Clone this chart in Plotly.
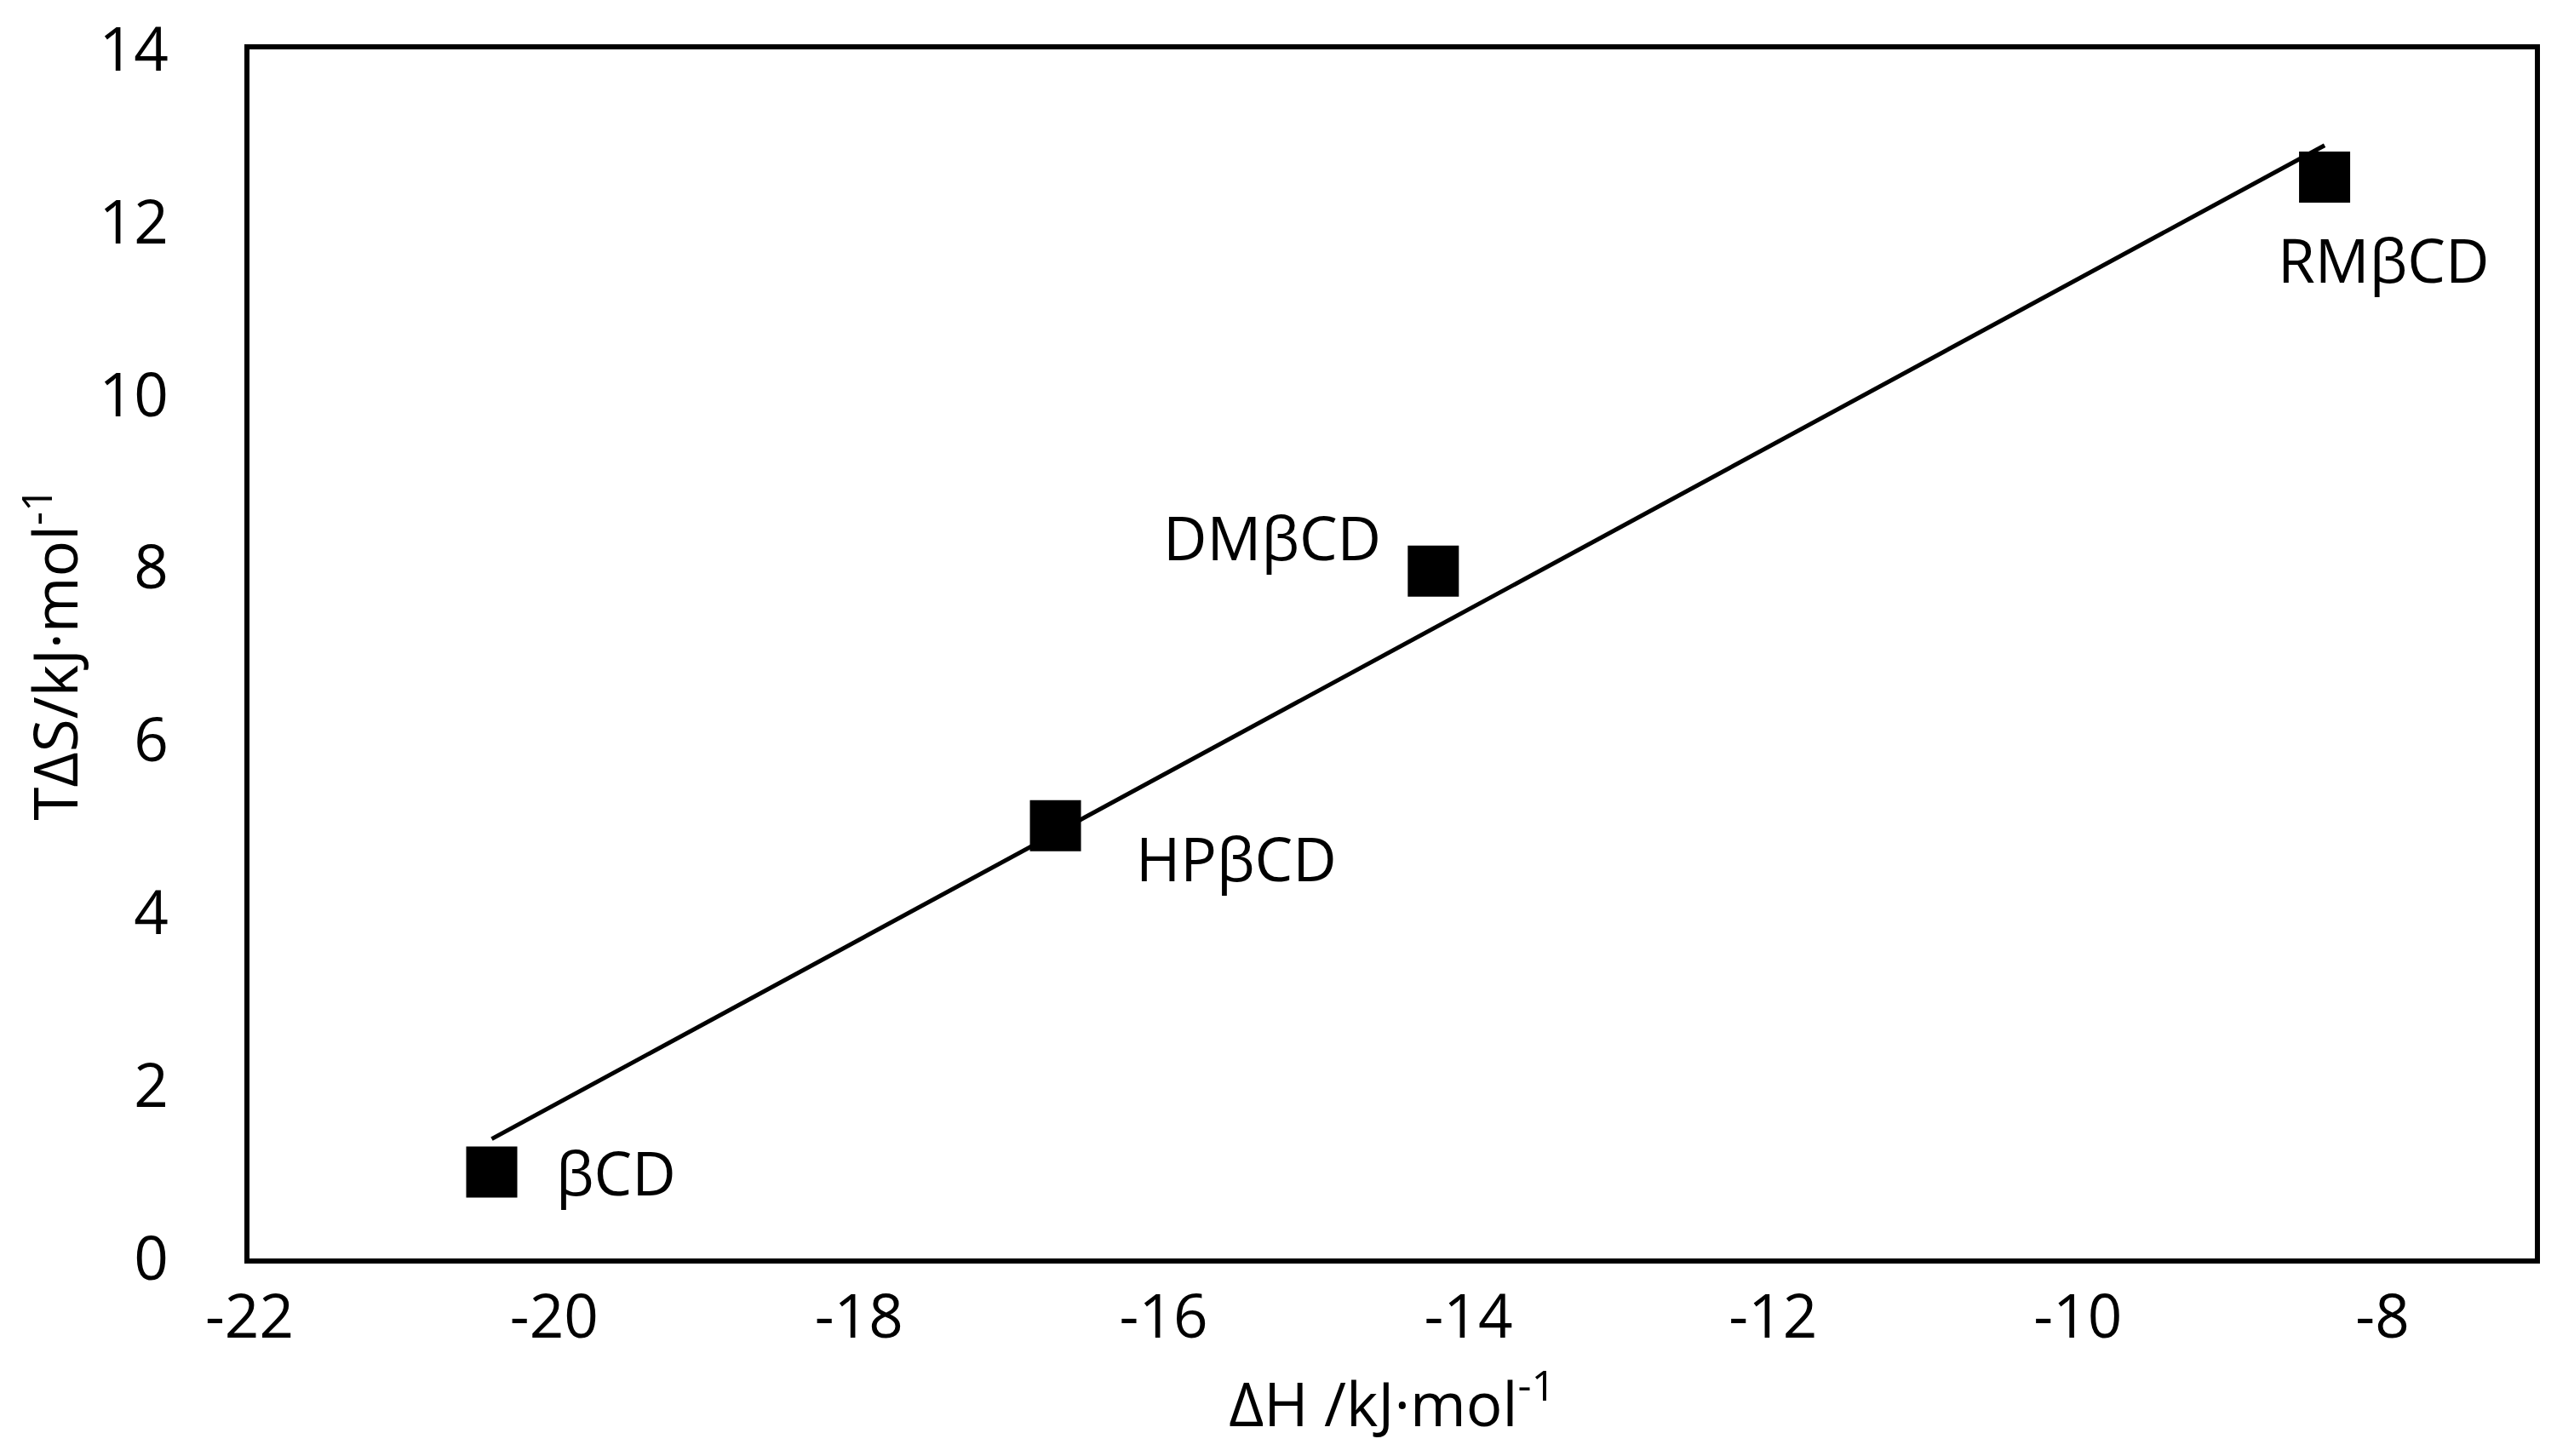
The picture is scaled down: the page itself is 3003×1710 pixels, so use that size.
import numpy as np
import plotly.graph_objects as go

# ---- data ----
compounds = ["βCD", "HPβCD", "DMβCD", "RMβCD"]
delta_h = [-20.41, -16.71, -14.23, -8.38]      # kJ/mol
t_delta_s = [1.00, 5.01, 7.96, 12.52]          # kJ/mol
x_ticks = [-22, -20, -18, -16, -14, -12, -10, -8]
y_ticks = [0, 2, 4, 6, 8, 10, 12, 14]

# linear trend line (least squares) over the data span
slope, intercept = np.polyfit(delta_h, t_delta_s, 1)
trend_x = [min(delta_h), max(delta_h)]
trend_y = [slope * v + intercept for v in trend_x]

FONT = "Open Sans"
FS = 71

fig = go.Figure()
fig.add_trace(go.Scatter(x=trend_x, y=trend_y, mode="lines",
                         line=dict(color="black", width=5), showlegend=False,
                         hoverinfo="skip"))
fig.add_trace(go.Scatter(x=delta_h, y=t_delta_s, mode="markers",
                         marker=dict(symbol="square", size=60, color="black"),
                         showlegend=False))

# label placement (pixel offsets from each point)
placement = {
    "βCD": dict(xanchor="left", xshift=73, yshift=0),
    "HPβCD": dict(xanchor="left", xshift=92, yshift=-38),
    "DMβCD": dict(xanchor="right", xshift=-59, yshift=40),
    "RMβCD": dict(xanchor="center", xshift=69, yshift=-96),
}
for name, xv, yv in zip(compounds, delta_h, t_delta_s):
    p = placement[name]
    fig.add_annotation(x=xv, y=yv, xref="x", yref="y", text=name,
                       showarrow=False, xanchor=p["xanchor"], yanchor="middle",
                       xshift=p["xshift"], yshift=p["yshift"],
                       font=dict(family=FONT, size=FS, color="black"))

fig.update_layout(
    width=3003, height=1710,
    paper_bgcolor="white", plot_bgcolor="white",
    margin=dict(l=285, r=34, t=50, b=240),
    font=dict(family=FONT, size=FS, color="black"),
)
fig.update_xaxes(range=[-22, -7], tickvals=x_ticks, ticktext=[str(v) for v in x_ticks],
                 showgrid=False, zeroline=False, showline=True, linecolor="black",
                 linewidth=6, mirror=True, ticks="", ticklabelstandoff=2,
                 ticklabeloverflow="allow", automargin=False,
                 title=dict(text="ΔH /kJ·mol<sup>-1</sup>", font=dict(family=FONT, size=FS),
                            standoff=8))
fig.update_yaxes(range=[0, 14], tickvals=y_ticks, ticktext=[str(v) for v in y_ticks],
                 showgrid=False, zeroline=False, showline=True, linecolor="black",
                 linewidth=6, mirror=True, ticks="", ticklabelstandoff=75,
                 ticklabeloverflow="allow", automargin=False,
                 title=dict(text="TΔS/kJ·mol<sup>-1</sup>", font=dict(family=FONT, size=FS),
                            standoff=14))

fig.write_html("out.html")
